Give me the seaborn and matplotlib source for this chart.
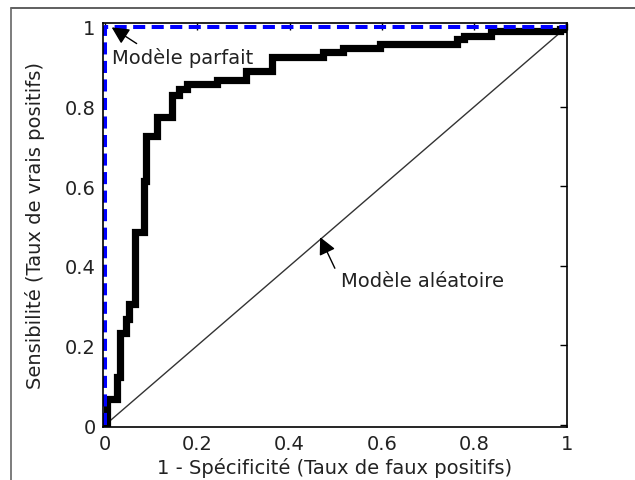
import matplotlib
matplotlib.use("Agg")
import matplotlib.pyplot as plt
from matplotlib.lines import Line2D
import seaborn as sns

# ROC curve (staircase, steps-post)
fpr = [0, 0.005, 0.025, 0.033, 0.045, 0.053, 0.066, 0.084, 0.089, 0.113,
       0.145, 0.16, 0.178, 0.243, 0.305, 0.362, 0.472, 0.516, 0.596, 0.762,
       0.778, 0.836, 0.985, 1.0]
tpr = [0, 0.065, 0.12, 0.232, 0.266, 0.304, 0.484, 0.614, 0.727, 0.775,
       0.83, 0.845, 0.856, 0.868, 0.89, 0.924, 0.936, 0.946, 0.957, 0.97,
       0.977, 0.989, 0.995, 1.0]

# perfect model and random model
perfect_x = [0, 0, 1]
perfect_y = [0, 1, 1]
random_x = [0, 1]
random_y = [0, 1]

ticks = [0, 0.2, 0.4, 0.6, 0.8, 1]
tick_labels = ["0", "0.2", "0.4", "0.6", "0.8", "1"]

sns.set_theme(style="white")
plt.rcParams['font.family'] = ['DejaVu Sans']
fs = 14

fig = plt.figure(figsize=(6.35, 4.81), dpi=100)
ax = fig.add_axes([0.1617, 0.1108, 0.7307, 0.8393])

sns.lineplot(x=random_x, y=random_y, ax=ax, color='#333333', linewidth=1.0,
             estimator=None, sort=False)
sns.lineplot(x=fpr, y=tpr, ax=ax, color='black', linewidth=5.2,
             estimator=None, sort=False, drawstyle='steps-post',
             solid_joinstyle='miter')
sns.lineplot(x=perfect_x, y=perfect_y, ax=ax, color='#0000ff', linewidth=2.9,
             estimator=None, sort=False, dashes=False, linestyle=(0, (3, 1.6)))

ax.set_xlim(-0.005, 1.0)
ax.set_ylim(-0.004, 1.01)
ax.set_xticks(ticks)
ax.set_xticklabels(tick_labels)
ax.set_yticks(ticks)
ax.set_yticklabels(tick_labels)
ax.tick_params(direction='in', length=5, width=1, top=True, right=True,
               labelsize=fs, colors='black', labelcolor='#222222', pad=5)
for s in ax.spines.values():
    s.set_color('black')
    s.set_linewidth(1.2)

ax.set_xlabel("1 - Spécificité (Taux de faux positifs)", fontsize=fs,
              color='#222222', labelpad=3)
ax.set_ylabel("Sensibilité (Taux de vrais positifs)", fontsize=fs,
              color='#222222', labelpad=14)

arrow = dict(arrowstyle='-|>', color='black', lw=1.0, mutation_scale=26,
             shrinkA=0, shrinkB=0)
ax.annotate("Modèle parfait", xy=(0.0145, 0.999), xytext=(0.015, 0.925),
            fontsize=fs, color='#222222', va='center', ha='left',
            arrowprops=dict(arrow, relpos=(0.2, 1.05)))
ax.annotate("Modèle aléatoire", xy=(0.466, 0.472), xytext=(0.512, 0.363),
            fontsize=fs, color='#222222', va='center', ha='left',
            arrowprops=dict(arrow, relpos=(-0.04, 1.15)))

# outer frame around the figure (only top and left visible)
fig.add_artist(Line2D([11 / 635, 1.0], [1 - 8.5 / 481, 1 - 8.5 / 481],
                      color='#444444', lw=1.2, transform=fig.transFigure))
fig.add_artist(Line2D([11 / 635, 11 / 635], [0, 1 - 8.5 / 481],
                      color='#666666', lw=1.2, transform=fig.transFigure))

fig.savefig("out.png", dpi=100)
